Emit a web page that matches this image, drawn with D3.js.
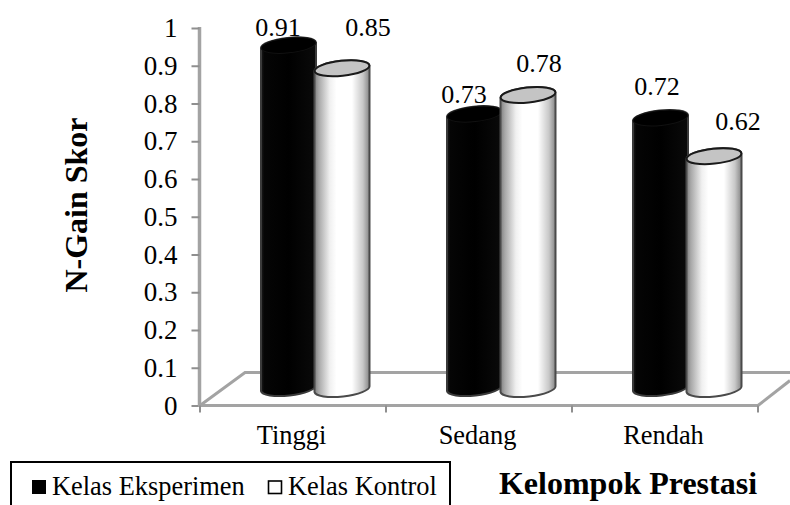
<!DOCTYPE html>
<html><head><meta charset="utf-8">
<script src="https://cdn.jsdelivr.net/npm/d3@7"></script>
<style>html,body{margin:0;padding:0;background:#fff}svg{display:block}text{font-family:"Liberation Serif",serif;fill:#000}</style>
</head><body><svg id="c" width="790" height="505"></svg>
<script>
const categories = ["Tinggi","Sedang","Rendah"];
const seriesNames = ["Kelas Eksperimen","Kelas Kontrol"];
const eksperimen = [0.91,0.73,0.72];
const kontrol = [0.85,0.78,0.62];
const yTicks = [0,0.1,0.2,0.3,0.4,0.5,0.6,0.7,0.8,0.9,1];
const tickLabels = ["0","0.1","0.2","0.3","0.4","0.5","0.6","0.7","0.8","0.9","1"];

const svg = d3.select("#c");
const defs = svg.append("defs");
const wg = defs.append("linearGradient").attr("id","wg");
[[0,"#808080"],[0.08,"#a8a8a8"],[0.28,"#f0f0f0"],[0.4,"#fff"],[0.68,"#fff"],[0.88,"#c8c8c8"],[1,"#858585"]]
  .forEach(s=>wg.append("stop").attr("offset",s[0]).attr("stop-color",s[1]));
const bg = defs.append("linearGradient").attr("id","bg");
[[0,"#1c1c1c"],[0.06,"#050505"],[0.5,"#000"],[1,"#0a0a0a"]]
  .forEach(s=>bg.append("stop").attr("offset",s[0]).attr("stop-color",s[1]));

const x = d3.scaleBand().domain(categories).range([200,758]).paddingInner(0).paddingOuter(0);
const y = d3.scaleLinear().domain([0,1]).range([405.5,28]);
const barY = d3.scaleLinear().domain([0,1]).range([393,11]);
const grey = "#a3a3a3";

// floor
const depthX = 45, depthY = 33;
svg.append("path")
  .attr("d",`M${x.range()[0]},${y(0)}L${x.range()[0]+depthX},${y(0)-depthY}H790`)
  .attr("fill","none").attr("stroke",grey).attr("stroke-width",3);
svg.append("path")
  .attr("d",`M${x.range()[1]},${y(0)}L790,${y(0)-depthY+8}`)
  .attr("fill","none").attr("stroke",grey).attr("stroke-width",3);

// axes
const gy = svg.append("g").attr("transform","translate(199.5,0)")
  .call(d3.axisLeft(y).tickValues(yTicks).tickSize(8).tickPadding(14).tickFormat((d,i)=>tickLabels[i]));
gy.selectAll("line").attr("stroke","#8f8f8f").attr("stroke-width",2);
gy.select("path").attr("d",`M0,${y(1)-1}V${y(0)}`).attr("stroke",grey).attr("stroke-width",3.5);
gy.selectAll("text").attr("font-size",27).attr("fill","#000").attr("font-family","Liberation Serif");

const xTickPos = [...categories.map(c=>x(c)), x.range()[1]];
svg.append("path").attr("d",`M198,${y(0)}H758`).attr("stroke",grey).attr("stroke-width",3);
svg.selectAll(".xt").data(xTickPos).enter().append("line")
  .attr("x1",d=>d).attr("x2",d=>d).attr("y1",y(0)).attr("y2",y(0)+7)
  .attr("stroke","#8f8f8f").attr("stroke-width",2);
svg.selectAll(".xl").data(categories).enter().append("text")
  .attr("x",d=>x(d)+x.bandwidth()/2-1.5).attr("y",444).attr("text-anchor","middle")
  .attr("font-size",26.4).text(d=>d);

// cylinders
const r = 27.5, ry = 7.5, rot = -6, tilt = 3, baseLift = 5;
function cyl(cx, top, bottom, fill, stroke){
  const g = svg.append("g");
  g.append("path")
    .attr("d",`M${cx-r},${top+tilt}V${bottom+tilt}A${r},${ry} ${rot} 0 0 ${cx+r},${bottom-tilt}V${top-tilt}A${r},${ry} ${rot} 0 0 ${cx-r},${top+tilt}Z`)
    .attr("fill",fill).attr("stroke",stroke).attr("stroke-width",2);
  return g;
}
const barOffset = d3.scaleBand().domain(seriesNames).range([0,108]);
const groupStart = c => x(c)+61;
categories.forEach((c,i)=>{
  const bx = groupStart(c)+barOffset(seriesNames[0])+27.5;
  cyl(bx, barY(eksperimen[i]), barY(0)-baseLift, "url(#bg)", "#3a3a3a");
  svg.append("ellipse").attr("cx",bx).attr("cy",barY(eksperimen[i])).attr("rx",r).attr("ry",ry)
    .attr("transform",`rotate(${rot} ${bx} ${barY(eksperimen[i])})`).attr("fill","#000").attr("stroke","#111");
});
categories.forEach((c,i)=>{
  const wx = groupStart(c)+barOffset(seriesNames[1])+27;
  cyl(wx, barY(kontrol[i]), barY(0)-baseLift+1, "url(#wg)", "#4a4a4a");
  svg.append("ellipse").attr("cx",wx).attr("cy",barY(kontrol[i])).attr("rx",r).attr("ry",ry)
    .attr("transform",`rotate(${rot} ${wx} ${barY(kontrol[i])})`).attr("fill","#c4c4c4").attr("stroke","#1a1a1a").attr("stroke-width",2);
});

// data labels
const labelOffsetsE = [[-10,-9],[-10,-11],[-3,-23]];
const labelOffsetsK = [[26,-32],[11,-23],[24,-26]];
categories.forEach((c,i)=>{
  const bx = groupStart(c)+barOffset(seriesNames[0])+27;
  const wx = groupStart(c)+barOffset(seriesNames[1])+27;
  svg.append("text").attr("x",bx+labelOffsetsE[i][0]).attr("y",barY(eksperimen[i])+labelOffsetsE[i][1])
    .attr("text-anchor","middle").attr("font-size",26).text(eksperimen[i].toFixed(2));
  svg.append("text").attr("x",wx+labelOffsetsK[i][0]).attr("y",barY(kontrol[i])+labelOffsetsK[i][1])
    .attr("text-anchor","middle").attr("font-size",26).text(kontrol[i].toFixed(2));
});

// titles
svg.append("text").attr("transform","translate(87,205) rotate(-90)").attr("text-anchor","middle")
  .attr("font-size",32).attr("font-weight","bold").text("N-Gain Skor");
svg.append("text").attr("x",628).attr("y",494).attr("text-anchor","middle")
  .attr("font-size",32).attr("font-weight","bold").text("Kelompok Prestasi");

// legend
svg.append("path").attr("d","M11,505V462H450V505").attr("fill","none").attr("stroke","#000").attr("stroke-width",2);
svg.append("rect").attr("x",32).attr("y",480).attr("width",14).attr("height",14).attr("fill","#000");
svg.append("rect").attr("x",268.5).attr("y",481).attr("width",13).attr("height",12.5).attr("fill","#fff").attr("stroke","#000").attr("stroke-width",1.6);
svg.append("text").attr("x",52).attr("y",495).attr("font-size",26.4).text(seriesNames[0]);
svg.append("text").attr("x",288).attr("y",495).attr("font-size",26.4).text(seriesNames[1]);
</script></body></html>
